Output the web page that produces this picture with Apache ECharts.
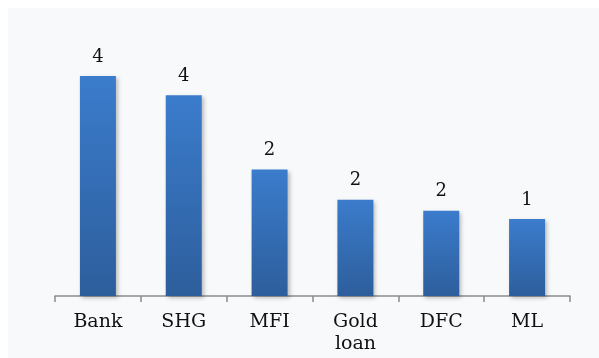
<!DOCTYPE html>
<html>
<head>
<meta charset="utf-8">
<script src="https://cdn.jsdelivr.net/npm/echarts@6/dist/echarts.min.js"></script>
<style>
  html, body { margin: 0; padding: 0; background: #ffffff; }
  #chart { width: 599px; height: 358px; }
</style>
</head>
<body>
<div id="chart"></div>
<script>
// Loan sources and their counts (labels show the rounded count)
const categories = ['Bank', 'SHG', 'MFI', 'Gold\nloan', 'DFC', 'ML'];
const counts = [4.0, 3.65, 2.3, 1.75, 1.55, 1.4];

const chart = echarts.init(document.getElementById('chart'), null, { renderer: 'canvas' });

const serif = '"DejaVu Serif", "Liberation Serif", serif';

chart.setOption({
  backgroundColor: '#ffffff',
  animation: false,
  graphic: [{
    type: 'rect',
    z: -10,
    shape: { x: 8, y: 8, width: 591, height: 350 },
    style: { fill: '#f8f9fb' },
    silent: true
  }],
  grid: { left: 55, right: 29, top: 21, bottom: 62 },
  xAxis: {
    type: 'category',
    data: categories,
    axisLine: { lineStyle: { color: '#8c8c8c', width: 1.5 } },
    axisTick: { show: true, alignWithLabel: false, length: 6, lineStyle: { color: '#8c8c8c', width: 1.5 } },
    axisLabel: {
      color: '#111111',
      fontFamily: serif,
      fontSize: 19,
      lineHeight: 22,
      margin: 15,
      interval: 0
    }
  },
  yAxis: {
    type: 'value',
    min: 0,
    max: 5,
    show: false,
    splitLine: { show: false }
  },
  series: [{
    type: 'bar',
    data: counts,
    barWidth: 36,
    itemStyle: {
      color: new echarts.graphic.LinearGradient(0, 0, 0, 1, [
        { offset: 0, color: '#3b7ccc' },
        { offset: 1, color: '#2d5e9c' }
      ]),
      shadowColor: 'rgba(0,0,0,0.25)',
      shadowBlur: 4,
      shadowOffsetX: 2,
      shadowOffsetY: 2
    },
    label: {
      show: true,
      position: 'top',
      distance: 10,
      color: '#111111',
      fontFamily: serif,
      fontSize: 18,
      formatter: p => String(Math.round(p.value))
    }
  }]
});
</script>
</body>
</html>
